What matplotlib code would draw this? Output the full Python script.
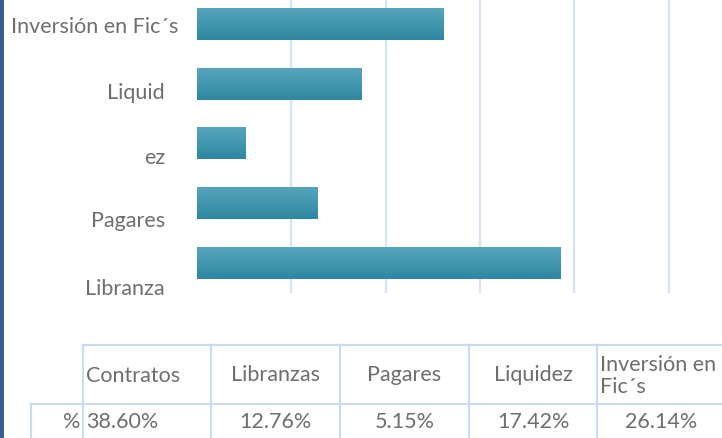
import matplotlib.pyplot as plt
from matplotlib.colors import LinearSegmentedColormap
from matplotlib.lines import Line2D
from matplotlib.patches import Rectangle
import numpy as np

# datos
categorias = ["Contratos", "Libranzas", "Pagares", "Liquidez", "Inversión en Fic´s"]
encabezados = ["Contratos", "Libranzas", "Pagares", "Liquidez", "Inversión en\nFic´s"]
porcentajes = [38.60, 12.76, 5.15, 17.42, 26.14]
etiquetas_eje = ["Libranza", "Pagares", "ez", "Liquid", "Inversión en Fic´s"]
fila_nombre = "%"

# posiciones (pixeles de la imagen 722x438)
W, H = 722, 438
etiq_y_px = [289, 221, 158, 93, 27]
etiq_x_px = [165, 165, 165, 165, 178]
col_x = [83, 211, 340, 469, 597, 726]

gris = "#6e6e6e"
fuente = "Lato"
tam = 15.5

fig = plt.figure(figsize=(W / 100, H / 100), dpi=100)


def fx(x):
    return x / W


def fy(y):
    return 1 - y / H


# barra lateral oscura
fig.add_artist(Rectangle((0, 0), fx(4), 1, transform=fig.transFigure,
                         color="#3A5F8F", lw=0))

ax = fig.add_axes([fx(197), fy(293), fx(525), 293 / H])
escala = 9.43
xmax = 525 / escala
pxu = 59.64
ymin = -30 / pxu
ymax = 4 + 24.5 / pxu

pos = np.arange(len(porcentajes))
barras = ax.barh(pos, porcentajes, height=0.52, color="none")
cmap = LinearSegmentedColormap.from_list("g", ["#2E88A0", "#56A5BC"])
grad = np.linspace(0, 1, 50).reshape(-1, 1)
for b in barras:
    x0, y0 = b.get_x(), b.get_y()
    ax.imshow(grad, extent=(x0, x0 + b.get_width(), y0, y0 + b.get_height()),
              origin="lower", aspect="auto", cmap=cmap, zorder=3)

ax.set_xlim(0, xmax)
ax.set_ylim(ymin, ymax)
ax.set_xticks([10, 20, 30, 40, 50])
ax.set_yticks([])
ax.tick_params(length=0, labelbottom=False)
ax.grid(axis="x", color="#D7E3F3", lw=1.6)
ax.set_axisbelow(True)
for s in ax.spines.values():
    s.set_visible(False)

# etiquetas del eje (desalineadas como en el original)
for txt, px, py in zip(etiquetas_eje, etiq_x_px, etiq_y_px):
    fig.text(fx(px), fy(py), txt, ha="right", va="center", color=gris,
             fontsize=tam, family=fuente)

# tabla de datos
linea = "#C9DBF2"
lw = 1.6


def hline(y, x0, x1):
    fig.add_artist(Line2D([fx(x0), fx(x1)], [fy(y), fy(y)], color=linea, lw=lw))


def vline(x, y0, y1):
    fig.add_artist(Line2D([fx(x), fx(x)], [fy(y0), fy(y1)], color=linea, lw=lw))


hline(345, 83, W)
hline(404, 31, W)
vline(31, 404, H)
for x in col_x[:-1]:
    vline(x, 345, H)

for i, (enc, val) in enumerate(zip(encabezados, porcentajes)):
    c0, c1 = col_x[i], col_x[i + 1]
    if i == 0 or "\n" in enc:
        fig.text(fx(c0 + 3), fy(376), enc, ha="left", va="center", color=gris,
                 fontsize=tam, family=fuente, linespacing=1.15)
    else:
        fig.text(fx((c0 + c1) / 2), fy(375), enc, ha="center", va="center",
                 color=gris, fontsize=tam, family=fuente)
    if i == 0:
        fig.text(fx(c0 + 3), fy(422), f"{val:.2f}%", ha="left", va="center",
                 color=gris, fontsize=tam, family=fuente)
    else:
        fig.text(fx((c0 + c1) / 2), fy(422), f"{val:.2f}%", ha="center",
                 va="center", color=gris, fontsize=tam, family=fuente)

fig.text(fx(80), fy(422), fila_nombre, ha="right", va="center", color=gris,
         fontsize=tam, family=fuente)

fig.savefig("out.png", dpi=100)
